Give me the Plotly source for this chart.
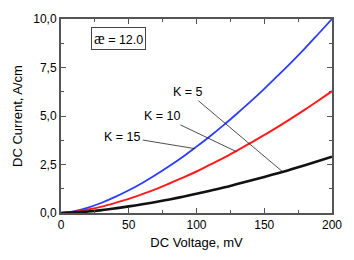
import plotly.graph_objects as go

voltage = [0, 10, 20, 30, 40, 50, 60, 70, 80, 90, 100, 110, 120, 130, 140, 150, 160, 170, 180, 190, 200]
current_k15 = [0, 0.10, 0.28, 0.53, 0.83, 1.17, 1.55, 1.97, 2.42, 2.90, 3.42, 3.96, 4.53, 5.13, 5.75, 6.40, 7.08, 7.77, 8.49, 9.24, 10.0]
current_k10 = [0, 0.06, 0.18, 0.33, 0.52, 0.73, 0.97, 1.23, 1.52, 1.82, 2.14, 2.49, 2.84, 3.22, 3.61, 4.02, 4.44, 4.88, 5.33, 5.80, 6.28]
current_k5 = [0, 0.03, 0.08, 0.15, 0.24, 0.34, 0.45, 0.57, 0.70, 0.84, 0.99, 1.15, 1.31, 1.49, 1.67, 1.86, 2.05, 2.25, 2.46, 2.68, 2.90]

x_ticks = [0, 50, 100, 150, 200]
y_ticks = [0, 2.5, 5, 7.5, 10]
y_ticktext = ["0,0", "2,5", "5,0", "7,5", "10,0"]

fig = go.Figure()
fig.add_trace(go.Scatter(x=voltage, y=current_k15, mode="lines", line=dict(color="#2a3cff", width=1.8, shape="spline")))
fig.add_trace(go.Scatter(x=voltage, y=current_k10, mode="lines", line=dict(color="#ff1a1a", width=2, shape="spline")))
fig.add_trace(go.Scatter(x=voltage, y=current_k5, mode="lines", line=dict(color="#111111", width=2.6, shape="spline")))

axis_common = dict(
    showline=True, linecolor="#555555", linewidth=2, mirror="ticks",
    ticks="inside", ticklen=5, tickwidth=1, tickcolor="#555555",
    showgrid=False, zeroline=False,
    tickfont=dict(family="Arial, Liberation Sans, sans-serif", size=12, color="black"),
)

fig.update_xaxes(
    range=[0, 200], tickvals=x_ticks, title=dict(text="DC Voltage, mV", standoff=6,
    font=dict(family="Arial, Liberation Sans, sans-serif", size=13, color="black")),
    minor=dict(ticks="inside", ticklen=3, tickcolor="#555555", dtick=25, tick0=0),
    **axis_common,
)
fig.update_yaxes(
    range=[0, 10], tickvals=y_ticks, ticktext=y_ticktext, title=dict(text="DC Current, A/cm", standoff=8,
    font=dict(family="Arial, Liberation Sans, sans-serif", size=13, color="black")),
    minor=dict(ticks="inside", ticklen=3, tickcolor="#555555", dtick=1.25, tick0=0),
    **axis_common,
)

ann_font = dict(family="Arial, Liberation Sans, sans-serif", size=12.5, color="black")
labels = [
    ("K = 5", 163.5, 2.13, 94.0, 6.22),
    ("K = 10", 129.2, 3.17, 75.0, 4.98),
    ("K = 15", 98.5, 3.32, 45.6, 3.93),
]
for text, px, py, tx, ty in labels:
    fig.add_annotation(x=px, y=py, ax=tx, ay=ty, axref="x", ayref="y", text=text,
                       showarrow=True, arrowhead=0, arrowwidth=0.8, arrowcolor="#222222",
                       font=ann_font)

fig.add_annotation(x=0.214, y=0.9, xref="paper", yref="paper", xanchor="center", yanchor="middle",
                   text="<span style='font-family:Liberation Serif;font-size:16px'>æ</span> = 12.0",
                   showarrow=False, bordercolor="#444444", borderwidth=1, borderpad=2,
                   bgcolor="white", font=ann_font)

fig.update_layout(
    width=354, height=260,
    margin=dict(l=61, r=21, t=16, b=43),
    paper_bgcolor="white", plot_bgcolor="white",
    showlegend=False,
)

fig.write_html("out.html", config={"displayModeBar": False},
               post_script="document.body.style.margin='0';")
